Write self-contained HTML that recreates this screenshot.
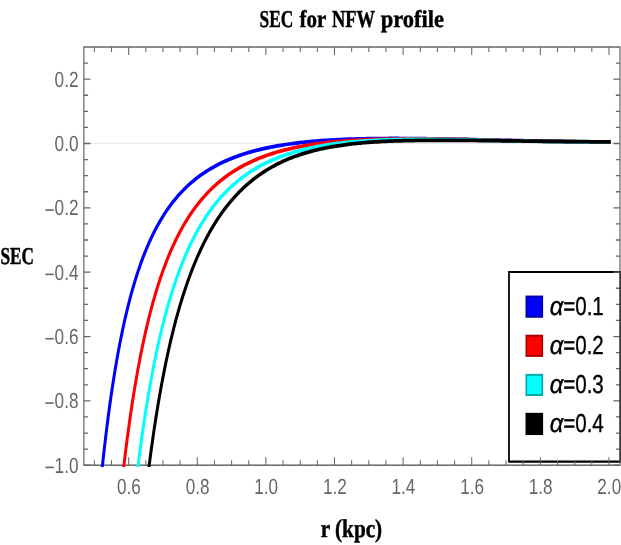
<!DOCTYPE html>
<html><head><meta charset="utf-8"><title>SEC for NFW profile</title>
<style>html,body{margin:0;padding:0;background:#fff}svg{display:block;will-change:transform}text{font-family:"Liberation Sans",sans-serif;text-rendering:geometricPrecision}.se{font-family:"Liberation Serif",serif;font-weight:bold;fill:#000;stroke:#000;stroke-width:0.45px}.tk{fill:#666;font-size:21.9px}.lg{fill:#000;font-size:26px;stroke:#000;stroke-width:0.35px}</style></head>
<body>
<svg width="621" height="545" viewBox="0 0 621 545">
<rect width="621" height="545" fill="#fff"/>
<g transform="scale(0.8,1)">
<defs><clipPath id="cp"><rect x="104.88" y="47.0" width="670.12" height="419.90"/></clipPath></defs>
<line x1="104.88" y1="143.30" x2="775.00" y2="143.30" stroke="#d4d4d4" stroke-width="0.7"/>
<path d="M775.37 272.0 H636.25 V461.7 H775.37" fill="none" stroke="#000" stroke-width="2.2" stroke-linejoin="miter"/>
<g stroke="#666" stroke-width="1.5" fill="none">
<rect x="104.88" y="47.0" width="670.12" height="418.20"/>
<path d="M117.95 465.2 v-5.0 M117.95 47.0 v5.0 M139.39 465.2 v-5.0 M139.39 47.0 v5.0 M160.83 465.2 v-8.0 M160.83 47.0 v8.0 M182.28 465.2 v-5.0 M182.28 47.0 v5.0 M203.72 465.2 v-5.0 M203.72 47.0 v5.0 M225.16 465.2 v-5.0 M225.16 47.0 v5.0 M246.60 465.2 v-8.0 M246.60 47.0 v8.0 M268.04 465.2 v-5.0 M268.04 47.0 v5.0 M289.48 465.2 v-5.0 M289.48 47.0 v5.0 M310.92 465.2 v-5.0 M310.92 47.0 v5.0 M332.36 465.2 v-8.0 M332.36 47.0 v8.0 M353.81 465.2 v-5.0 M353.81 47.0 v5.0 M375.25 465.2 v-5.0 M375.25 47.0 v5.0 M396.69 465.2 v-5.0 M396.69 47.0 v5.0 M418.13 465.2 v-8.0 M418.13 47.0 v8.0 M439.57 465.2 v-5.0 M439.57 47.0 v5.0 M461.01 465.2 v-5.0 M461.01 47.0 v5.0 M482.45 465.2 v-5.0 M482.45 47.0 v5.0 M503.89 465.2 v-8.0 M503.89 47.0 v8.0 M525.34 465.2 v-5.0 M525.34 47.0 v5.0 M546.78 465.2 v-5.0 M546.78 47.0 v5.0 M568.22 465.2 v-5.0 M568.22 47.0 v5.0 M589.66 465.2 v-8.0 M589.66 47.0 v8.0 M611.10 465.2 v-5.0 M611.10 47.0 v5.0 M632.54 465.2 v-5.0 M632.54 47.0 v5.0 M653.98 465.2 v-5.0 M653.98 47.0 v5.0 M675.42 465.2 v-8.0 M675.42 47.0 v8.0 M696.87 465.2 v-5.0 M696.87 47.0 v5.0 M718.31 465.2 v-5.0 M718.31 47.0 v5.0 M739.75 465.2 v-5.0 M739.75 47.0 v5.0 M761.19 465.2 v-8.0 M761.19 47.0 v8.0 M104.88 465.21 h8.2 M775.00 465.21 h-8.2 M104.88 449.12 h5.2 M775.00 449.12 h-5.2 M104.88 433.04 h5.2 M775.00 433.04 h-5.2 M104.88 416.95 h5.2 M775.00 416.95 h-5.2 M104.88 400.87 h8.2 M775.00 400.87 h-8.2 M104.88 384.79 h5.2 M775.00 384.79 h-5.2 M104.88 368.70 h5.2 M775.00 368.70 h-5.2 M104.88 352.61 h5.2 M775.00 352.61 h-5.2 M104.88 336.53 h8.2 M775.00 336.53 h-8.2 M104.88 320.44 h5.2 M775.00 320.44 h-5.2 M104.88 304.36 h5.2 M775.00 304.36 h-5.2 M104.88 288.27 h5.2 M775.00 288.27 h-5.2 M104.88 272.19 h8.2 M775.00 272.19 h-8.2 M104.88 256.10 h5.2 M775.00 256.10 h-5.2 M104.88 240.02 h5.2 M775.00 240.02 h-5.2 M104.88 223.94 h5.2 M775.00 223.94 h-5.2 M104.88 207.85 h8.2 M775.00 207.85 h-8.2 M104.88 191.76 h5.2 M775.00 191.76 h-5.2 M104.88 175.68 h5.2 M775.00 175.68 h-5.2 M104.88 159.59 h5.2 M775.00 159.59 h-5.2 M104.88 143.51 h8.2 M775.00 143.51 h-8.2 M104.88 127.42 h5.2 M775.00 127.42 h-5.2 M104.88 111.34 h5.2 M775.00 111.34 h-5.2 M104.88 95.25 h5.2 M775.00 95.25 h-5.2 M104.88 79.17 h8.2 M775.00 79.17 h-8.2 M104.88 63.08 h5.2 M775.00 63.08 h-5.2" stroke-width="1.3"/>
</g>
<line x1="775.37" y1="270.9" x2="775.37" y2="462.8" stroke="#3a3a3a" stroke-width="2.2"/>
<g clip-path="url(#cp)" fill="none" stroke-width="3.75" stroke-linejoin="round">
<path d="M125.11 488.93 L125.39 486.64 L125.67 484.36 L125.95 482.11 L126.23 479.87 L126.51 477.65 L126.79 475.45 L127.07 473.27 L127.35 471.11 L127.63 468.96 L127.90 466.84 L128.18 464.73 L128.46 462.64 L128.74 460.56 L129.02 458.51 L129.30 456.47 L129.58 454.45 L129.86 452.44 L130.14 450.45 L130.42 448.48 L130.70 446.52 L130.98 444.58 L131.26 442.66 L131.54 440.75 L131.82 438.86 L132.10 436.98 L132.38 435.12 L132.66 433.27 L132.94 431.44 L133.22 429.62 L133.50 427.82 L133.78 426.03 L134.06 424.25 L134.34 422.49 L134.62 420.75 L134.89 419.02 L135.17 417.30 L135.45 415.59 L135.73 413.90 L136.01 412.22 L136.29 410.56 L136.57 408.91 L136.85 407.27 L137.13 405.64 L137.41 404.03 L137.69 402.43 L137.97 400.84 L138.25 399.26 L138.53 397.70 L138.81 396.15 L139.09 394.61 L139.37 393.08 L139.65 391.56 L139.93 390.06 L140.21 388.57 L140.77 385.61 L141.33 382.71 L141.89 379.84 L142.44 377.02 L143.00 374.24 L143.56 371.51 L144.12 368.81 L144.68 366.15 L145.24 363.53 L145.80 360.96 L146.36 358.41 L146.92 355.91 L147.48 353.44 L148.04 351.01 L148.60 348.61 L149.15 346.25 L149.71 343.92 L150.27 341.62 L150.83 339.35 L151.39 337.12 L151.95 334.92 L152.51 332.75 L153.07 330.61 L153.63 328.50 L154.19 326.42 L154.75 324.36 L155.31 322.34 L155.87 320.34 L156.42 318.37 L156.98 316.43 L157.54 314.51 L158.10 312.62 L158.66 310.75 L159.22 308.91 L159.78 307.10 L160.34 305.30 L160.90 303.54 L161.46 301.79 L162.02 300.07 L162.58 298.37 L163.14 296.69 L163.69 295.03 L164.25 293.40 L164.81 291.79 L165.37 290.19 L165.93 288.62 L166.49 287.07 L167.05 285.54 L167.61 284.02 L168.17 282.53 L168.73 281.05 L169.29 279.60 L169.85 278.16 L170.68 276.03 L171.52 273.95 L172.36 271.90 L173.20 269.89 L174.04 267.92 L174.88 265.98 L175.72 264.08 L176.56 262.21 L177.40 260.38 L178.23 258.58 L179.07 256.81 L179.91 255.07 L180.75 253.36 L181.59 251.69 L182.43 250.04 L183.27 248.42 L184.11 246.82 L184.94 245.26 L185.78 243.72 L186.62 242.21 L187.46 240.72 L188.30 239.26 L189.14 237.82 L189.98 236.41 L190.82 235.02 L191.65 233.65 L192.49 232.31 L193.61 230.55 L194.73 228.83 L195.85 227.15 L196.97 225.50 L198.09 223.89 L199.20 222.32 L200.32 220.77 L201.44 219.26 L202.56 217.78 L203.68 216.33 L204.80 214.91 L205.91 213.52 L207.03 212.16 L208.15 210.83 L209.27 209.52 L210.39 208.24 L211.51 206.99 L212.63 205.76 L213.74 204.55 L215.14 203.08 L216.54 201.64 L217.94 200.24 L219.34 198.87 L220.73 197.53 L222.13 196.23 L223.53 194.96 L224.93 193.72 L226.33 192.50 L227.72 191.32 L229.12 190.16 L230.52 189.03 L231.92 187.93 L233.32 186.85 L234.71 185.80 L236.11 184.77 L237.51 183.76 L239.19 182.58 L240.87 181.44 L242.54 180.32 L244.22 179.24 L245.90 178.18 L247.58 177.15 L249.25 176.15 L250.93 175.17 L252.61 174.22 L254.29 173.29 L255.96 172.39 L257.64 171.51 L259.32 170.65 L261.00 169.82 L262.67 169.01 L264.35 168.21 L266.03 167.44 L267.71 166.68 L269.39 165.95 L271.06 165.23 L272.74 164.53 L274.42 163.85 L276.38 163.08 L278.33 162.32 L280.29 161.59 L282.25 160.88 L284.20 160.19 L286.16 159.52 L288.12 158.87 L290.08 158.24 L292.03 157.62 L293.99 157.02 L295.95 156.44 L297.91 155.88 L299.86 155.33 L301.82 154.79 L303.78 154.27 L305.73 153.77 L307.69 153.28 L309.65 152.80 L311.61 152.33 L313.56 151.88 L315.52 151.44 L317.48 151.02 L319.43 150.60 L321.39 150.20 L323.35 149.81 L325.31 149.43 L327.26 149.06 L329.22 148.69 L331.18 148.34 L333.66 147.91 L335.82 147.55 L337.97 147.20 L340.13 146.86 L342.29 146.53 L344.45 146.21 L346.61 145.90 L348.77 145.60 L350.93 145.31 L353.09 145.03 L355.25 144.76 L357.41 144.50 L359.57 144.24 L361.73 144.00 L363.89 143.76 L366.05 143.53 L368.21 143.30 L370.37 143.09 L372.53 142.88 L374.68 142.67 L376.84 142.48 L379.00 142.29 L381.16 142.11 L383.32 141.93 L385.48 141.76 L387.64 141.60 L389.80 141.44 L391.96 141.29 L394.12 141.14 L396.28 141.00 L398.44 140.86 L400.60 140.73 L402.76 140.61 L404.92 140.48 L407.08 140.37 L409.23 140.26 L411.39 140.15 L413.55 140.05 L415.71 139.95 L417.87 139.85 L420.03 139.76 L422.19 139.67 L424.35 139.59 L426.51 139.51 L428.67 139.44 L430.83 139.36 L432.99 139.30 L435.15 139.23 L437.31 139.17 L439.47 139.11 L441.63 139.05 L443.78 139.00 L445.94 138.95 L448.10 138.91 L450.26 138.86 L452.42 138.82 L454.58 138.78 L456.74 138.75 L458.90 138.71 L461.06 138.68 L463.22 138.66 L465.38 138.63 L467.54 138.61 L469.70 138.59 L471.86 138.57 L474.02 138.55 L476.18 138.54 L478.34 138.52 L480.49 138.51 L482.65 138.50 L484.81 138.50 L486.97 138.49 L489.13 138.49 L491.29 138.49 L493.45 138.49 L495.61 138.49 L497.77 138.49 L499.93 138.50 L502.09 138.50 L504.25 138.51 L506.41 138.52 L508.57 138.53 L510.73 138.54 L512.89 138.55 L515.04 138.57 L517.20 138.58 L519.36 138.60 L521.52 138.62 L523.68 138.64 L525.84 138.66 L528.00 138.68 L530.16 138.70 L532.32 138.72 L534.48 138.75 L536.64 138.77 L538.80 138.80 L540.96 138.82 L543.12 138.85 L545.28 138.88 L547.44 138.91 L549.60 138.94 L551.75 138.97 L553.91 139.00 L556.07 139.03 L558.23 139.06 L560.39 139.09 L562.55 139.13 L564.71 139.16 L566.87 139.19 L569.03 139.23 L571.19 139.26 L573.35 139.30 L575.51 139.33 L577.67 139.37 L579.83 139.41 L581.99 139.44 L584.15 139.48 L586.30 139.52 L588.46 139.56 L590.62 139.59 L592.78 139.63 L594.94 139.67 L597.10 139.71 L599.26 139.75 L601.42 139.79 L603.58 139.83 L605.74 139.87 L607.90 139.91 L610.06 139.95 L612.22 139.98 L614.38 140.02 L616.54 140.06 L618.70 140.10 L620.86 140.14 L623.01 140.18 L625.17 140.22 L627.33 140.26 L629.49 140.30 L631.65 140.34 L633.81 140.38 L635.97 140.42 L638.13 140.46 L640.29 140.50 L642.45 140.54 L644.61 140.57 L646.77 140.61 L648.93 140.65 L651.09 140.69 L653.25 140.73 L655.41 140.76 L657.56 140.80 L659.72 140.84 L661.88 140.87 L664.04 140.91 L666.20 140.95 L668.36 140.98 L670.52 141.02 L672.68 141.05 L674.84 141.09 L677.00 141.12 L679.16 141.16 L681.32 141.19 L683.48 141.22 L685.64 141.26 L687.80 141.29 L689.96 141.32 L692.12 141.35 L694.27 141.38 L696.43 141.42 L698.59 141.45 L700.75 141.48 L702.91 141.51 L705.07 141.53 L707.23 141.56 L709.39 141.59 L711.55 141.62 L713.71 141.65 L715.87 141.67 L718.03 141.70 L720.19 141.72 L722.35 141.75 L724.51 141.77 L726.67 141.80 L728.82 141.82 L730.98 141.84 L733.14 141.87 L735.30 141.89 L737.46 141.91 L739.62 141.93 L741.78 141.95 L743.94 141.97 L746.10 141.99 L748.26 142.00 L750.42 142.02 L752.58 142.04 L754.74 142.05 L756.90 142.07 L759.06 142.08 L761.22 142.10 L763.38 142.11" stroke="#0000ff"/>
<path d="M151.39 490.26 L151.67 488.18 L151.95 486.12 L152.23 484.07 L152.51 482.04 L152.79 480.02 L153.07 478.02 L153.35 476.04 L153.63 474.07 L153.91 472.11 L154.19 470.17 L154.47 468.24 L154.75 466.33 L155.03 464.43 L155.31 462.54 L155.59 460.67 L155.87 458.81 L156.15 456.97 L156.42 455.14 L156.70 453.32 L156.98 451.52 L157.26 449.73 L157.54 447.95 L157.82 446.19 L158.10 444.43 L158.38 442.70 L158.66 440.97 L158.94 439.26 L159.22 437.55 L159.50 435.87 L159.78 434.19 L160.06 432.52 L160.34 430.87 L160.62 429.23 L160.90 427.60 L161.18 425.98 L161.46 424.37 L161.74 422.78 L162.02 421.19 L162.30 419.62 L162.58 418.06 L162.86 416.51 L163.14 414.97 L163.41 413.44 L163.69 411.92 L163.97 410.41 L164.25 408.91 L164.53 407.43 L165.09 404.48 L165.65 401.58 L166.21 398.72 L166.77 395.89 L167.33 393.11 L167.89 390.36 L168.45 387.65 L169.01 384.98 L169.57 382.34 L170.13 379.74 L170.68 377.17 L171.24 374.63 L171.80 372.13 L172.36 369.66 L172.92 367.23 L173.48 364.82 L174.04 362.45 L174.60 360.11 L175.16 357.80 L175.72 355.52 L176.28 353.27 L176.84 351.04 L177.40 348.85 L177.95 346.68 L178.51 344.54 L179.07 342.43 L179.63 340.34 L180.19 338.28 L180.75 336.25 L181.31 334.24 L181.87 332.26 L182.43 330.30 L182.99 328.36 L183.55 326.45 L184.11 324.57 L184.66 322.70 L185.22 320.86 L185.78 319.04 L186.34 317.24 L186.90 315.47 L187.46 313.71 L188.02 311.98 L188.58 310.27 L189.14 308.57 L189.70 306.90 L190.26 305.25 L190.82 303.62 L191.38 302.00 L191.93 300.41 L192.49 298.83 L193.05 297.27 L193.61 295.73 L194.17 294.21 L194.73 292.71 L195.29 291.22 L195.85 289.75 L196.41 288.30 L196.97 286.86 L197.81 284.74 L198.65 282.65 L199.48 280.60 L200.32 278.58 L201.16 276.59 L202.00 274.64 L202.84 272.72 L203.68 270.83 L204.52 268.98 L205.36 267.15 L206.19 265.35 L207.03 263.58 L207.87 261.85 L208.71 260.13 L209.55 258.45 L210.39 256.79 L211.23 255.16 L212.07 253.56 L212.90 251.98 L213.74 250.42 L214.58 248.89 L215.42 247.39 L216.26 245.90 L217.10 244.44 L217.94 243.01 L218.78 241.59 L219.62 240.20 L220.45 238.82 L221.29 237.47 L222.41 235.70 L223.53 233.97 L224.65 232.27 L225.77 230.60 L226.89 228.96 L228.00 227.36 L229.12 225.79 L230.24 224.25 L231.36 222.74 L232.48 221.26 L233.60 219.81 L234.71 218.38 L235.83 216.98 L236.95 215.61 L238.07 214.27 L239.19 212.95 L240.31 211.65 L241.42 210.38 L242.54 209.13 L243.66 207.91 L245.06 206.41 L246.46 204.94 L247.86 203.51 L249.25 202.11 L250.65 200.75 L252.05 199.41 L253.45 198.10 L254.85 196.83 L256.24 195.58 L257.64 194.35 L259.04 193.16 L260.44 191.99 L261.84 190.85 L263.23 189.73 L264.63 188.64 L266.03 187.56 L267.43 186.52 L268.83 185.49 L270.22 184.49 L271.90 183.31 L273.58 182.17 L275.26 181.05 L276.93 179.96 L278.61 178.90 L280.29 177.87 L281.97 176.86 L283.65 175.87 L285.32 174.91 L287.00 173.98 L288.68 173.06 L290.36 172.17 L292.03 171.30 L293.71 170.46 L295.39 169.63 L297.07 168.82 L298.74 168.04 L300.42 167.27 L302.10 166.52 L303.78 165.79 L305.45 165.07 L307.13 164.38 L308.81 163.70 L310.77 162.92 L312.72 162.17 L314.68 161.44 L316.64 160.73 L318.60 160.04 L320.55 159.37 L322.51 158.72 L324.47 158.08 L326.42 157.46 L328.38 156.86 L330.34 156.28 L332.30 155.71 L334.74 155.03 L336.90 154.44 L339.05 153.87 L341.21 153.32 L343.37 152.79 L345.53 152.27 L347.69 151.77 L349.85 151.28 L352.01 150.81 L354.17 150.35 L356.33 149.91 L358.49 149.48 L360.65 149.06 L362.81 148.66 L364.97 148.27 L367.13 147.89 L369.29 147.52 L371.45 147.17 L373.60 146.83 L375.76 146.49 L377.92 146.17 L380.08 145.86 L382.24 145.56 L384.40 145.27 L386.56 144.99 L388.72 144.72 L390.88 144.45 L393.04 144.20 L395.20 143.95 L397.36 143.72 L399.52 143.49 L401.68 143.27 L403.84 143.05 L406.00 142.85 L408.15 142.65 L410.31 142.46 L412.47 142.27 L414.63 142.10 L416.79 141.93 L418.95 141.76 L421.11 141.60 L423.27 141.45 L425.43 141.31 L427.59 141.17 L429.75 141.03 L431.91 140.90 L434.07 140.78 L436.23 140.66 L438.39 140.55 L440.55 140.44 L442.71 140.34 L444.86 140.24 L447.02 140.15 L449.18 140.06 L451.34 139.97 L453.50 139.89 L455.66 139.81 L457.82 139.74 L459.98 139.67 L462.14 139.61 L464.30 139.55 L466.46 139.49 L468.62 139.44 L470.78 139.38 L472.94 139.34 L475.10 139.29 L477.26 139.25 L479.41 139.22 L481.57 139.18 L483.73 139.15 L485.89 139.12 L488.05 139.09 L490.21 139.07 L492.37 139.05 L494.53 139.03 L496.69 139.01 L498.85 139.00 L501.01 138.99 L503.17 138.98 L505.33 138.97 L507.49 138.97 L509.65 138.97 L511.81 138.97 L513.97 138.97 L516.12 138.97 L518.28 138.97 L520.44 138.98 L522.60 138.99 L524.76 139.00 L526.92 139.01 L529.08 139.02 L531.24 139.04 L533.40 139.05 L535.56 139.07 L537.72 139.09 L539.88 139.11 L542.04 139.13 L544.20 139.15 L546.36 139.18 L548.52 139.20 L550.67 139.23 L552.83 139.25 L554.99 139.28 L557.15 139.31 L559.31 139.34 L561.47 139.37 L563.63 139.40 L565.79 139.43 L567.95 139.46 L570.11 139.49 L572.27 139.53 L574.43 139.56 L576.59 139.60 L578.75 139.63 L580.91 139.67 L583.07 139.70 L585.23 139.74 L587.38 139.78 L589.54 139.82 L591.70 139.85 L593.86 139.89 L596.02 139.93 L598.18 139.97 L600.34 140.01 L602.50 140.05 L604.66 140.08 L606.82 140.12 L608.98 140.16 L611.14 140.20 L613.30 140.24 L615.46 140.28 L617.62 140.32 L619.78 140.36 L621.93 140.40 L624.09 140.44 L626.25 140.48 L628.41 140.52 L630.57 140.55 L632.73 140.59 L634.89 140.63 L637.05 140.67 L639.21 140.71 L641.37 140.74 L643.53 140.78 L645.69 140.82 L647.85 140.86 L650.01 140.89 L652.17 140.93 L654.33 140.96 L656.49 141.00 L658.64 141.03 L660.80 141.07 L662.96 141.10 L665.12 141.13 L667.28 141.17 L669.44 141.20 L671.60 141.23 L673.76 141.26 L675.92 141.29 L678.08 141.32 L680.24 141.35 L682.40 141.38 L684.56 141.41 L686.72 141.44 L688.88 141.46 L691.04 141.49 L693.19 141.51 L695.35 141.54 L697.51 141.56 L699.67 141.59 L701.83 141.61 L703.99 141.63 L706.15 141.65 L708.31 141.67 L710.47 141.69 L712.63 141.71 L714.79 141.73 L716.95 141.74 L719.11 141.76 L721.27 141.78 L723.43 141.79 L725.59 141.80 L727.75 141.82 L729.90 141.83 L732.06 141.84 L734.22 141.85 L736.38 141.86 L738.54 141.87 L740.70 141.87 L742.86 141.88 L745.02 141.89 L747.18 141.89 L749.34 141.89 L751.50 141.90 L753.66 141.90 L755.82 141.90 L757.98 141.90 L760.14 141.89 L762.30 141.89 L763.38 141.89" stroke="#ff0000"/>
<path d="M169.01 489.16 L169.29 487.24 L169.57 485.32 L169.85 483.42 L170.13 481.53 L170.40 479.66 L170.68 477.79 L170.96 475.94 L171.24 474.11 L171.52 472.28 L171.80 470.47 L172.08 468.67 L172.36 466.88 L172.64 465.10 L172.92 463.34 L173.20 461.59 L173.48 459.85 L173.76 458.12 L174.04 456.40 L174.32 454.70 L174.60 453.00 L174.88 451.32 L175.16 449.65 L175.44 447.99 L175.72 446.34 L176.00 444.70 L176.28 443.07 L176.56 441.46 L176.84 439.85 L177.12 438.26 L177.40 436.67 L177.67 435.10 L177.95 433.53 L178.23 431.98 L178.51 430.43 L178.79 428.90 L179.07 427.38 L179.35 425.86 L179.63 424.36 L179.91 422.86 L180.19 421.38 L180.75 418.44 L181.31 415.53 L181.87 412.67 L182.43 409.84 L182.99 407.04 L183.55 404.28 L184.11 401.56 L184.66 398.87 L185.22 396.21 L185.78 393.59 L186.34 391.00 L186.90 388.44 L187.46 385.92 L188.02 383.42 L188.58 380.95 L189.14 378.52 L189.70 376.11 L190.26 373.74 L190.82 371.39 L191.38 369.07 L191.93 366.78 L192.49 364.52 L193.05 362.28 L193.61 360.07 L194.17 357.89 L194.73 355.73 L195.29 353.60 L195.85 351.49 L196.41 349.41 L196.97 347.35 L197.53 345.32 L198.09 343.31 L198.65 341.32 L199.20 339.36 L199.76 337.42 L200.32 335.50 L200.88 333.60 L201.44 331.73 L202.00 329.88 L202.56 328.04 L203.12 326.23 L203.68 324.44 L204.24 322.67 L204.80 320.92 L205.36 319.19 L205.91 317.47 L206.47 315.78 L207.03 314.11 L207.59 312.45 L208.15 310.81 L208.71 309.19 L209.27 307.59 L209.83 306.01 L210.39 304.44 L210.95 302.89 L211.51 301.36 L212.07 299.84 L212.63 298.34 L213.18 296.86 L213.74 295.39 L214.30 293.94 L214.86 292.50 L215.70 290.38 L216.54 288.29 L217.38 286.23 L218.22 284.20 L219.06 282.21 L219.90 280.24 L220.73 278.31 L221.57 276.41 L222.41 274.53 L223.25 272.69 L224.09 270.87 L224.93 269.09 L225.77 267.32 L226.61 265.59 L227.44 263.88 L228.28 262.20 L229.12 260.54 L229.96 258.91 L230.80 257.30 L231.64 255.72 L232.48 254.16 L233.32 252.62 L234.16 251.11 L234.99 249.62 L235.83 248.15 L236.67 246.70 L237.51 245.27 L238.35 243.86 L239.19 242.48 L240.03 241.11 L240.87 239.76 L241.98 238.00 L243.10 236.26 L244.22 234.56 L245.34 232.90 L246.46 231.26 L247.58 229.65 L248.69 228.08 L249.81 226.53 L250.93 225.01 L252.05 223.52 L253.17 222.06 L254.29 220.62 L255.41 219.21 L256.52 217.83 L257.64 216.47 L258.76 215.13 L259.88 213.82 L261.00 212.53 L262.12 211.27 L263.23 210.03 L264.35 208.81 L265.75 207.31 L267.15 205.85 L268.55 204.42 L269.94 203.02 L271.34 201.65 L272.74 200.31 L274.14 199.00 L275.54 197.72 L276.93 196.46 L278.33 195.23 L279.73 194.03 L281.13 192.86 L282.53 191.70 L283.92 190.58 L285.32 189.47 L286.72 188.39 L288.12 187.34 L289.52 186.30 L290.91 185.28 L292.59 184.10 L294.27 182.94 L295.95 181.80 L297.63 180.70 L299.30 179.62 L300.98 178.57 L302.66 177.55 L304.34 176.55 L306.01 175.57 L307.69 174.62 L309.37 173.69 L311.05 172.79 L312.72 171.90 L314.40 171.04 L316.08 170.20 L317.76 169.38 L319.43 168.58 L321.11 167.79 L322.79 167.03 L324.47 166.28 L326.15 165.56 L327.82 164.84 L329.50 164.15 L331.18 163.47 L333.66 162.50 L335.82 161.69 L337.97 160.89 L340.13 160.12 L342.29 159.38 L344.45 158.66 L346.61 157.96 L348.77 157.28 L350.93 156.62 L353.09 155.98 L355.25 155.36 L357.41 154.76 L359.57 154.18 L361.73 153.62 L363.89 153.08 L366.05 152.55 L368.21 152.04 L370.37 151.54 L372.53 151.06 L374.68 150.60 L376.84 150.15 L379.00 149.71 L381.16 149.29 L383.32 148.88 L385.48 148.48 L387.64 148.10 L389.80 147.73 L391.96 147.37 L394.12 147.03 L396.28 146.69 L398.44 146.37 L400.60 146.05 L402.76 145.75 L404.92 145.46 L407.08 145.18 L409.23 144.90 L411.39 144.64 L413.55 144.39 L415.71 144.14 L417.87 143.91 L420.03 143.68 L422.19 143.46 L424.35 143.25 L426.51 143.05 L428.67 142.85 L430.83 142.66 L432.99 142.48 L435.15 142.31 L437.31 142.14 L439.47 141.98 L441.63 141.83 L443.78 141.68 L445.94 141.54 L448.10 141.40 L450.26 141.27 L452.42 141.15 L454.58 141.03 L456.74 140.92 L458.90 140.81 L461.06 140.71 L463.22 140.61 L465.38 140.51 L467.54 140.43 L469.70 140.34 L471.86 140.26 L474.02 140.19 L476.18 140.12 L478.34 140.05 L480.49 139.99 L482.65 139.93 L484.81 139.88 L486.97 139.82 L489.13 139.78 L491.29 139.73 L493.45 139.69 L495.61 139.65 L497.77 139.62 L499.93 139.59 L502.09 139.56 L504.25 139.53 L506.41 139.51 L508.57 139.49 L510.73 139.47 L512.89 139.46 L515.04 139.45 L517.20 139.44 L519.36 139.43 L521.52 139.42 L523.68 139.42 L525.84 139.42 L528.00 139.42 L530.16 139.42 L532.32 139.43 L534.48 139.43 L536.64 139.44 L538.80 139.45 L540.96 139.46 L543.12 139.47 L545.28 139.49 L547.44 139.50 L549.60 139.52 L551.75 139.54 L553.91 139.56 L556.07 139.58 L558.23 139.60 L560.39 139.63 L562.55 139.65 L564.71 139.68 L566.87 139.70 L569.03 139.73 L571.19 139.76 L573.35 139.79 L575.51 139.82 L577.67 139.85 L579.83 139.88 L581.99 139.91 L584.15 139.94 L586.30 139.98 L588.46 140.01 L590.62 140.05 L592.78 140.08 L594.94 140.11 L597.10 140.15 L599.26 140.19 L601.42 140.22 L603.58 140.26 L605.74 140.29 L607.90 140.33 L610.06 140.37 L612.22 140.40 L614.38 140.44 L616.54 140.48 L618.70 140.51 L620.86 140.55 L623.01 140.59 L625.17 140.62 L627.33 140.66 L629.49 140.70 L631.65 140.73 L633.81 140.77 L635.97 140.80 L638.13 140.84 L640.29 140.88 L642.45 140.91 L644.61 140.94 L646.77 140.98 L648.93 141.01 L651.09 141.05 L653.25 141.08 L655.41 141.11 L657.56 141.14 L659.72 141.18 L661.88 141.21 L664.04 141.24 L666.20 141.27 L668.36 141.30 L670.52 141.33 L672.68 141.35 L674.84 141.38 L677.00 141.41 L679.16 141.43 L681.32 141.46 L683.48 141.48 L685.64 141.51 L687.80 141.53 L689.96 141.55 L692.12 141.58 L694.27 141.60 L696.43 141.62 L698.59 141.64 L700.75 141.66 L702.91 141.67 L705.07 141.69 L707.23 141.71 L709.39 141.72 L711.55 141.73 L713.71 141.75 L715.87 141.76 L718.03 141.77 L720.19 141.78 L722.35 141.79 L724.51 141.80 L726.67 141.80 L728.82 141.81 L730.98 141.82 L733.14 141.82 L735.30 141.82 L737.46 141.82 L739.62 141.83 L741.78 141.83 L743.94 141.82 L746.10 141.82 L748.26 141.82 L750.42 141.81 L752.58 141.81 L754.74 141.80 L756.90 141.79 L759.06 141.78 L761.22 141.77 L763.38 141.76" stroke="#00ffff"/>
<path d="M182.71 489.96 L182.99 488.05 L183.27 486.15 L183.55 484.27 L183.83 482.40 L184.11 480.55 L184.39 478.70 L184.66 476.87 L184.94 475.05 L185.22 473.25 L185.50 471.46 L185.78 469.68 L186.06 467.91 L186.34 466.15 L186.62 464.41 L186.90 462.68 L187.18 460.96 L187.46 459.25 L187.74 457.56 L188.02 455.87 L188.30 454.20 L188.58 452.54 L188.86 450.89 L189.14 449.25 L189.42 447.63 L189.70 446.01 L189.98 444.40 L190.26 442.81 L190.54 441.23 L190.82 439.65 L191.10 438.09 L191.38 436.54 L191.65 434.99 L191.93 433.46 L192.21 431.94 L192.49 430.43 L192.77 428.93 L193.05 427.44 L193.61 424.48 L194.17 421.57 L194.73 418.69 L195.29 415.85 L195.85 413.05 L196.41 410.28 L196.97 407.55 L197.53 404.85 L198.09 402.19 L198.65 399.56 L199.20 396.96 L199.76 394.40 L200.32 391.87 L200.88 389.37 L201.44 386.90 L202.00 384.46 L202.56 382.05 L203.12 379.67 L203.68 377.32 L204.24 375.00 L204.80 372.71 L205.36 370.44 L205.91 368.20 L206.47 365.99 L207.03 363.80 L207.59 361.65 L208.15 359.51 L208.71 357.40 L209.27 355.32 L209.83 353.26 L210.39 351.22 L210.95 349.21 L211.51 347.22 L212.07 345.26 L212.63 343.31 L213.18 341.39 L213.74 339.49 L214.30 337.62 L214.86 335.76 L215.42 333.93 L215.98 332.11 L216.54 330.32 L217.10 328.54 L217.66 326.79 L218.22 325.05 L218.78 323.34 L219.34 321.64 L219.90 319.96 L220.45 318.30 L221.01 316.66 L221.57 315.03 L222.13 313.43 L222.69 311.84 L223.25 310.27 L223.81 308.71 L224.37 307.17 L224.93 305.65 L225.49 304.14 L226.05 302.65 L226.61 301.18 L227.16 299.72 L227.72 298.27 L228.56 296.14 L229.40 294.03 L230.24 291.96 L231.08 289.92 L231.92 287.91 L232.76 285.93 L233.60 283.98 L234.43 282.06 L235.27 280.17 L236.11 278.31 L236.95 276.47 L237.79 274.67 L238.63 272.89 L239.47 271.13 L240.31 269.40 L241.15 267.70 L241.98 266.02 L242.82 264.37 L243.66 262.74 L244.50 261.13 L245.34 259.54 L246.18 257.98 L247.02 256.44 L247.86 254.92 L248.69 253.43 L249.53 251.95 L250.37 250.50 L251.21 249.06 L252.05 247.65 L252.89 246.25 L253.73 244.87 L254.57 243.52 L255.68 241.74 L256.80 239.99 L257.92 238.27 L259.04 236.58 L260.16 234.93 L261.28 233.30 L262.40 231.70 L263.51 230.13 L264.63 228.59 L265.75 227.07 L266.87 225.59 L267.99 224.12 L269.11 222.68 L270.22 221.27 L271.34 219.88 L272.46 218.52 L273.58 217.18 L274.70 215.86 L275.82 214.56 L276.93 213.29 L278.05 212.04 L279.17 210.80 L280.29 209.59 L281.69 208.11 L283.09 206.66 L284.48 205.23 L285.88 203.84 L287.28 202.47 L288.68 201.13 L290.08 199.82 L291.47 198.54 L292.87 197.28 L294.27 196.05 L295.67 194.85 L297.07 193.66 L298.46 192.51 L299.86 191.37 L301.26 190.26 L302.66 189.17 L304.06 188.11 L305.45 187.06 L306.85 186.04 L308.25 185.03 L309.93 183.85 L311.61 182.70 L313.28 181.58 L314.96 180.49 L316.64 179.42 L318.32 178.37 L319.99 177.36 L321.67 176.36 L323.35 175.39 L325.03 174.44 L326.70 173.52 L328.38 172.62 L330.06 171.74 L331.74 170.88 L333.66 169.92 L335.82 168.87 L337.97 167.86 L340.13 166.88 L342.29 165.92 L344.45 165.00 L346.61 164.10 L348.77 163.24 L350.93 162.40 L353.09 161.59 L355.25 160.80 L357.41 160.03 L359.57 159.29 L361.73 158.58 L363.89 157.89 L366.05 157.22 L368.21 156.57 L370.37 155.94 L372.53 155.33 L374.68 154.74 L376.84 154.17 L379.00 153.62 L381.16 153.09 L383.32 152.57 L385.48 152.07 L387.64 151.59 L389.80 151.12 L391.96 150.67 L394.12 150.24 L396.28 149.82 L398.44 149.41 L400.60 149.02 L402.76 148.64 L404.92 148.28 L407.08 147.92 L409.23 147.58 L411.39 147.26 L413.55 146.94 L415.71 146.64 L417.87 146.34 L420.03 146.06 L422.19 145.79 L424.35 145.52 L426.51 145.27 L428.67 145.03 L430.83 144.79 L432.99 144.57 L435.15 144.35 L437.31 144.14 L439.47 143.94 L441.63 143.75 L443.78 143.57 L445.94 143.39 L448.10 143.22 L450.26 143.06 L452.42 142.90 L454.58 142.75 L456.74 142.61 L458.90 142.47 L461.06 142.34 L463.22 142.21 L465.38 142.10 L467.54 141.98 L469.70 141.87 L471.86 141.77 L474.02 141.67 L476.18 141.58 L478.34 141.49 L480.49 141.40 L482.65 141.32 L484.81 141.24 L486.97 141.17 L489.13 141.10 L491.29 141.04 L493.45 140.98 L495.61 140.92 L497.77 140.87 L499.93 140.81 L502.09 140.77 L504.25 140.72 L506.41 140.68 L508.57 140.64 L510.73 140.60 L512.89 140.57 L515.04 140.54 L517.20 140.51 L519.36 140.48 L521.52 140.46 L523.68 140.44 L525.84 140.42 L528.00 140.40 L530.16 140.38 L532.32 140.37 L534.48 140.36 L536.64 140.35 L538.80 140.34 L540.96 140.33 L543.12 140.32 L545.28 140.32 L547.44 140.32 L549.60 140.31 L551.75 140.31 L553.91 140.31 L556.07 140.32 L558.23 140.32 L560.39 140.32 L562.55 140.33 L564.71 140.33 L566.87 140.34 L569.03 140.35 L571.19 140.36 L573.35 140.37 L575.51 140.38 L577.67 140.39 L579.83 140.40 L581.99 140.41 L584.15 140.43 L586.30 140.44 L588.46 140.45 L590.62 140.47 L592.78 140.48 L594.94 140.50 L597.10 140.51 L599.26 140.53 L601.42 140.55 L603.58 140.57 L605.74 140.58 L607.90 140.60 L610.06 140.62 L612.22 140.64 L614.38 140.66 L616.54 140.67 L618.70 140.69 L620.86 140.71 L623.01 140.73 L625.17 140.75 L627.33 140.77 L629.49 140.79 L631.65 140.81 L633.81 140.83 L635.97 140.85 L638.13 140.87 L640.29 140.89 L642.45 140.91 L644.61 140.93 L646.77 140.96 L648.93 140.98 L651.09 141.00 L653.25 141.02 L655.41 141.04 L657.56 141.06 L659.72 141.08 L661.88 141.10 L664.04 141.12 L666.20 141.14 L668.36 141.16 L670.52 141.18 L672.68 141.20 L674.84 141.22 L677.00 141.24 L679.16 141.26 L681.32 141.28 L683.48 141.30 L685.64 141.32 L687.80 141.34 L689.96 141.36 L692.12 141.38 L694.27 141.40 L696.43 141.42 L698.59 141.44 L700.75 141.46 L702.91 141.48 L705.07 141.49 L707.23 141.51 L709.39 141.53 L711.55 141.55 L713.71 141.57 L715.87 141.59 L718.03 141.60 L720.19 141.62 L722.35 141.64 L724.51 141.66 L726.67 141.67 L728.82 141.69 L730.98 141.71 L733.14 141.73 L735.30 141.74 L737.46 141.76 L739.62 141.78 L741.78 141.79 L743.94 141.81 L746.10 141.82 L748.26 141.84 L750.42 141.86 L752.58 141.87 L754.74 141.89 L756.90 141.90 L759.06 141.92 L761.22 141.93 L763.38 141.95" stroke="#000000"/>
</g>
<rect x="657.88" y="296.55" width="20.00" height="20.20" fill="#0000ff" stroke="#0000aa" stroke-width="2.0"/>
<text class="lg" font-style="italic" x="687.25" y="315.3" textLength="17.00" lengthAdjust="spacingAndGlyphs">α</text>
<text class="lg" x="704.00" y="315.3" textLength="50.75" lengthAdjust="spacingAndGlyphs">=0.1</text>
<rect x="657.88" y="335.70" width="20.00" height="20.20" fill="#ff0000" stroke="#aa0000" stroke-width="2.0"/>
<text class="lg" font-style="italic" x="687.25" y="354.4" textLength="17.00" lengthAdjust="spacingAndGlyphs">α</text>
<text class="lg" x="704.00" y="354.4" textLength="50.75" lengthAdjust="spacingAndGlyphs">=0.2</text>
<rect x="657.88" y="374.85" width="20.00" height="20.20" fill="#00ffff" stroke="#00aaaa" stroke-width="2.0"/>
<text class="lg" font-style="italic" x="687.25" y="392.9" textLength="17.00" lengthAdjust="spacingAndGlyphs">α</text>
<text class="lg" x="704.00" y="392.9" textLength="50.75" lengthAdjust="spacingAndGlyphs">=0.3</text>
<rect x="657.88" y="413.85" width="20.00" height="20.20" fill="#000" stroke="#000" stroke-width="2.0"/>
<text class="lg" font-style="italic" x="687.25" y="432.0" textLength="17.00" lengthAdjust="spacingAndGlyphs">α</text>
<text class="lg" x="704.00" y="432.0" textLength="50.75" lengthAdjust="spacingAndGlyphs">=0.4</text>
<text class="tk" x="146.33" y="493.7" textLength="29.75" lengthAdjust="spacingAndGlyphs">0.6</text>
<text class="tk" x="232.10" y="493.7" textLength="29.75" lengthAdjust="spacingAndGlyphs">0.8</text>
<text class="tk" x="317.86" y="493.7" textLength="29.75" lengthAdjust="spacingAndGlyphs">1.0</text>
<text class="tk" x="403.63" y="493.7" textLength="29.75" lengthAdjust="spacingAndGlyphs">1.2</text>
<text class="tk" x="489.39" y="493.7" textLength="29.75" lengthAdjust="spacingAndGlyphs">1.4</text>
<text class="tk" x="575.16" y="493.7" textLength="29.75" lengthAdjust="spacingAndGlyphs">1.6</text>
<text class="tk" x="660.92" y="493.7" textLength="29.75" lengthAdjust="spacingAndGlyphs">1.8</text>
<text class="tk" x="746.69" y="493.7" textLength="29.75" lengthAdjust="spacingAndGlyphs">2.0</text>
<text class="tk" x="68.25" y="86.57" textLength="29.87" lengthAdjust="spacingAndGlyphs">0.2</text>
<text class="tk" x="68.25" y="150.91" textLength="29.87" lengthAdjust="spacingAndGlyphs">0.0</text>
<text class="tk" x="68.25" y="215.25" textLength="29.87" lengthAdjust="spacingAndGlyphs">0.2</text>
<rect x="56.75" y="209.25" width="10.50" height="1.6" fill="#666"/>
<text class="tk" x="68.25" y="279.59" textLength="29.87" lengthAdjust="spacingAndGlyphs">0.4</text>
<rect x="56.75" y="273.59" width="10.50" height="1.6" fill="#666"/>
<text class="tk" x="68.25" y="343.93" textLength="29.87" lengthAdjust="spacingAndGlyphs">0.6</text>
<rect x="56.75" y="337.93" width="10.50" height="1.6" fill="#666"/>
<text class="tk" x="68.25" y="408.27" textLength="29.87" lengthAdjust="spacingAndGlyphs">0.8</text>
<rect x="56.75" y="402.27" width="10.50" height="1.6" fill="#666"/>
<text class="tk" x="68.25" y="472.61" textLength="29.87" lengthAdjust="spacingAndGlyphs">1.0</text>
<rect x="56.75" y="466.61" width="10.50" height="1.6" fill="#666"/>
<text class="se" font-size="24.3" x="324.38" y="26.7" textLength="42.25" lengthAdjust="spacingAndGlyphs">SEC</text>
<text class="se" font-size="24.3" x="374.25" y="26.7" textLength="33.50" lengthAdjust="spacingAndGlyphs">for</text>
<text class="se" font-size="24.3" x="415.00" y="26.7" textLength="53.75" lengthAdjust="spacingAndGlyphs">NFW</text>
<text class="se" font-size="24.3" x="476.00" y="26.7" textLength="79.00" lengthAdjust="spacingAndGlyphs">profile</text>
<text class="se" font-size="24.3" x="0.62" y="264.3" textLength="41.88" lengthAdjust="spacingAndGlyphs">SEC</text>
<text class="se" font-size="25.5" x="400.87" y="536.6" textLength="76.88" lengthAdjust="spacingAndGlyphs">r (kpc)</text>
</g>
</svg>
</body></html>
